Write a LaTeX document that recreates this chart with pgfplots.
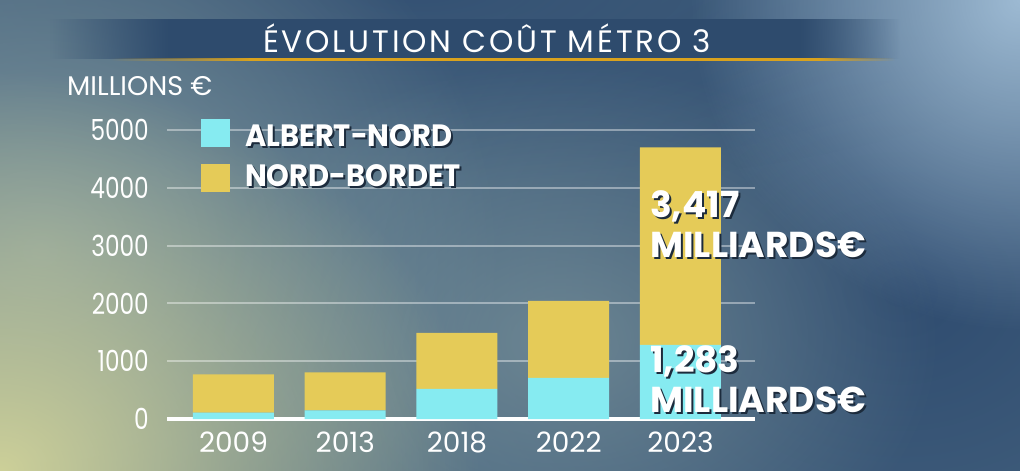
\documentclass[border=0pt]{standalone}
\usepackage{fontspec}
\setmainfont{Poppins}
\newfontfamily\condfont[FakeStretch=0.80]{Poppins}
\newfontfamily\titlefont[LetterSpace=9]{Poppins}
\newfontfamily\boldfont[FakeStretch=0.94]{Poppins}
\usepackage{pgfplots}
\pgfplotsset{compat=1.18}
\usetikzlibrary{fadings}

\definecolor{bgbase}{HTML}{4A6882}
\definecolor{bgdark}{HTML}{2F4C70}
\definecolor{bgteal}{HTML}{7E969C}
\definecolor{bgyellow}{HTML}{CDD099}
\definecolor{bglight}{HTML}{9DBAD3}
\definecolor{bandblue}{HTML}{2E4B6D}
\definecolor{bandgold}{HTML}{D9A21E}
\definecolor{albert}{HTML}{86EBF1}
\definecolor{bordet}{HTML}{E5CB58}
\definecolor{shadowc}{HTML}{1C2B3C}

\tikzfading[name=glow, inner color=transparent!0, outer color=transparent!100]

% white label with a dark drop shadow
\newcommand\shadowtext[1]{\makebox[0pt][l]{\kern2pt\raisebox{-2pt}{\textcolor{shadowc}{#1}}}#1}

\begin{document}
\begin{tikzpicture}[x=1pt, y=1pt]
% background
\begin{scope}
\clip (0,0) rectangle (1020,471);
\fill[bgbase] (0,0) rectangle (1020,471);
\fill[bgdark, path fading=glow] (900,180) ellipse (520 and 420);
\fill[bgdark, path fading=glow, opacity=0.8] (420,480) ellipse (700 and 200);
\fill[bgteal, path fading=glow] (40,220) ellipse (460 and 420);
\fill[bgteal, path fading=glow, opacity=0.7] (560,130) ellipse (380 and 280);
\fill[bgyellow, path fading=glow] (0,0) ellipse (480 and 400);
\fill[bglight, path fading=glow] (1020,471) ellipse (330 and 330);
\end{scope}

% title band
\fill[bandblue, path fading=west] (50,412) rectangle (170,452);
\fill[bandblue] (169,412) rectangle (800,452);
\fill[bandblue, path fading=east] (799,412) rectangle (900,452);
\fill[bandgold, path fading=west] (110,410) rectangle (250,413);
\fill[bandgold] (249,410) rectangle (820,413);
\fill[bandgold, path fading=east] (819,410) rectangle (895,413);
\node[anchor=base, inner sep=0, text=white, font=\titlefont\fontsize{31}{31}\selectfont]
  at (487,418) {ÉVOLUTION COÛT MÉTRO 3};
\node[anchor=base west, inner sep=0, text=white, font=\fontsize{27}{27}\selectfont]
  at (67,375) {MILLIONS €};

\begin{axis}[
  at={(167pt,52pt)}, anchor=south west,
  scale only axis, width=588pt, height=289pt,
  xmin=-0.595, xmax=4.667, ymin=0, ymax=5000,
  ybar stacked, bar width=81pt,
  xtick={0,1,2,3,4},
  xticklabels={2009,2013,2018,2022,2023},
  ytick={0,1000,2000,3000,4000,5000},
  scaled y ticks=false,
  /pgf/number format/1000 sep={},
  /pgf/number format/assume math mode=true,
  ymajorgrids,
  grid style={white, opacity=0.4, line width=2pt},
  axis line style={draw=none},
  major tick length=0pt,
  ticklabel style={font=\condfont\fontsize{29}{29}\selectfont, text=white},
  yticklabel style={inner sep=0pt, xshift=-18pt},
  xticklabel style={inner sep=0pt, yshift=-13pt, font=\fontsize{28}{28}\selectfont},
  clip=false,
]
% Albert-Nord
\addplot[fill=albert, draw=none] coordinates {(0,109) (1,150) (2,522) (3,712) (4,1283)};
% Nord-Bordet
\addplot[fill=bordet, draw=none] coordinates {(0,665) (1,656) (2,967) (3,1331) (4,3417)};
\draw[white, line width=4pt] (rel axis cs:0,0) -- (rel axis cs:1,0);
\end{axis}

% legend
\fill[albert] (201,324) rectangle (230,352);
\fill[bordet] (201,279) rectangle (230,307);
\node[anchor=base west, inner sep=0, text=white, font=\boldfont\bfseries\fontsize{30.8}{30.8}\selectfont]
  at (245,324) {\shadowtext{ALBERT-NORD}};
\node[anchor=base west, inner sep=0, text=white, font=\boldfont\bfseries\fontsize{30.8}{30.8}\selectfont]
  at (245,284) {\shadowtext{NORD-BORDET}};

% value labels on the 2023 bar
\begin{scope}[every node/.style={anchor=base west, inner sep=0, text=white,
    font=\bfseries\fontsize{36}{36}\selectfont}]
\node at (650,253) {\shadowtext{3,417}};
\node at (650,213) {\shadowtext{MILLIARDS€}};
\node at (650,98) {\shadowtext{1,283}};
\node at (650,58) {\shadowtext{MILLIARDS€}};
\end{scope}
\end{tikzpicture}
\end{document}
